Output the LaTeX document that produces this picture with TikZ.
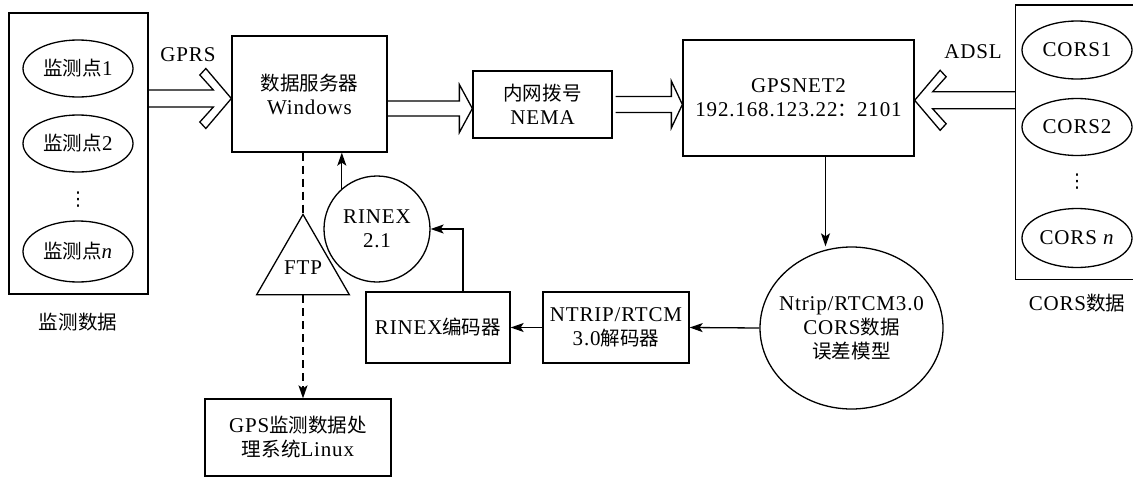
\documentclass[tikz,border=0pt]{standalone}
\usepackage{fontspec}
\setmainfont{Liberation Serif}[LetterSpace=4]
\newfontfamily\zhfont{Noto Sans CJK SC}[Scale=0.93]
\newfontfamily\symfont{DejaVu Sans}
\newcommand\zh[1]{{\zhfont #1}}
\usepackage{tikz}
\usetikzlibrary{arrows.meta,positioning,calc,shapes.geometric}
\tikzset{
  box/.style  ={draw,line width=1.3pt,inner sep=0pt,align=center},
  oval/.style ={ellipse,draw,line width=1.3pt,inner sep=0pt,minimum width=110pt,minimum height=57pt},
  ring/.style ={circle,draw,line width=1.3pt,inner sep=0pt,align=center},
  tri/.style  ={regular polygon,regular polygon sides=3,draw,line width=1.3pt,inner sep=0pt},
  vdot/.style ={inner sep=0pt,font=\symfont\fontsize{19}{19}\selectfont},
  flow/.style ={line width=1.3pt,-{Stealth[length=13pt,width=9pt,inset=3pt]}},
  dline/.style={line width=1.3pt,dash pattern=on 8pt off 5pt},
  fat/.style  ={line width=1.3pt,line join=miter},
}
% chevron head arrow: tail, tip, 1 = to the right / -1 = to the left
\newcommand\chevarrow[3]{%
  \draw[fat] let \p1=(#1), \p2=(#2) in
    (\x1,{\y2+8.5pt}) -- ({\x2-(#3)*18pt},{\y2+8.5pt}) -- ({\x2-(#3)*31.5pt},{\y2+23.5pt})
    -- ({\x2-(#3)*25.5pt},{\y2+30pt}) -- (\p2) -- ({\x2-(#3)*25.5pt},{\y2-30pt})
    -- ({\x2-(#3)*31.5pt},{\y2-23.5pt}) -- ({\x2-(#3)*18pt},{\y2-8.5pt}) -- (\x1,{\y2-8.5pt});}
% plain hollow arrow: tail, tip, shaft half, head half, head length
\newcommand\hollowarrow[5]{%
  \draw[fat] let \p1=(#1), \p2=(#2) in
    (\x1,{\y2+#3}) -- ({\x2-#5},{\y2+#3}) -- ({\x2-#5},{\y2+#4}) -- (\p2)
    -- ({\x2-#5},{\y2-#4}) -- ({\x2-#5},{\y2-#3}) -- (\x1,{\y2-#3});}

\begin{document}
\begin{tikzpicture}[x=1pt,y=-1pt,font=\fontsize{21}{24}\selectfont]
  \useasboundingbox (0,0) rectangle (1133,477);
  % monitoring points
  \node[box,minimum width=139pt,minimum height=281pt](mon) at (78.5,153.5){};
  \node[oval](m1) at (78,68.5){\zh{监测点}1};   \node[oval](m2) at (78,143.5){\zh{监测点}2};
  \node[vdot](mdots) at (78,200){⋮};
  \node[oval,minimum height=61pt](mn) at (78,251.5){\zh{监测点}\textit{n}};
  \node(mlab) at (78,322){\zh{监测数据}};
  % CORS stations
  \node[box,minimum width=124pt,minimum height=274.5pt](cors) at (1077.5,142.25){};
  \node[oval,minimum height=58pt](c1) at (1077,50){CORS1};   \node[oval](c2) at (1077,127){CORS2};
  \node[vdot](cdots) at (1077,182){⋮};
  \node[oval,minimum height=59pt](cn) at (1077,238){CORS \textit{n}};
  \node(clab) at (1077,303){CORS\zh{数据}};
  % servers
  \node[box,minimum width=155pt,minimum height=116pt](srv) at (309.5,94){\zh{数据服务器}\\Windows};
  \node[box,minimum width=139pt,minimum height=67pt](nema) at (542.5,104.5){\zh{内网拨号}\\NEMA};
  \node[box,minimum width=231pt,minimum height=116pt](gpsnet) at (798.5,98){GPSNET2\\192.168.123.22\zh{：}2101};
  \node(gprs) at (188,55){GPRS};   \node(adsl) at (973,52){ADSL};
  % lower chain
  \node[tri,minimum size=103pt](ftp) at (303,268){FTP};
  \node[ring,minimum size=106pt](rnx) at (377,229){RINEX\\2.1};
  \node[box,minimum width=144pt,minimum height=71pt](enc) at (438,327.5){RINEX\zh{编码器}};
  \node[box,minimum width=146pt,minimum height=71pt](dec) at (616,327.5){NTRIP/RTCM\\3.0\zh{解码器}};
  \node[oval,minimum width=183pt,minimum height=162pt](ntrip) at (851.5,328){};
  \node[align=center](ntriptxt) at (ntrip){Ntrip/RTCM3.0\\CORS\zh{数据}\\\zh{误差模型}};
  \node[box,minimum width=186pt,minimum height=77pt](gps) at (298,437.5){GPS\zh{监测数据处}\\\zh{理系统}Linux};
  % connectors
  \chevarrow{mon.east}{[yshift=-4.5pt]srv.west}{1}
  \chevarrow{cors.west}{[yshift=-2.3pt]gpsnet.east}{-1}
  \hollowarrow{srv.east}{[yshift=-4pt]nema.west}{7.5pt}{24pt}{13pt}
  \hollowarrow{[xshift=3pt]nema.east}{gpsnet.west |- nema.east}{8pt}{23.5pt}{11pt}
  \draw[flow]([xshift=27pt]gpsnet.south) -- ([xshift=27pt]gpsnet.south |- ntrip.north);
  \draw[flow](ntrip.west) -- (dec.east);   \draw[flow](dec.west) -- (enc.east);
  \draw[flow]([xshift=25pt]enc.north) |- (rnx.east);
  \draw[flow](rnx.131) -- (rnx.131 |- srv.south);
  \draw[dline](ftp.corner 1 |- srv.south) -- (ftp.corner 1);
  \draw[flow,dline](ftp.side 2) -- (ftp.side 2 |- gps.north);
\end{tikzpicture}
\end{document}
